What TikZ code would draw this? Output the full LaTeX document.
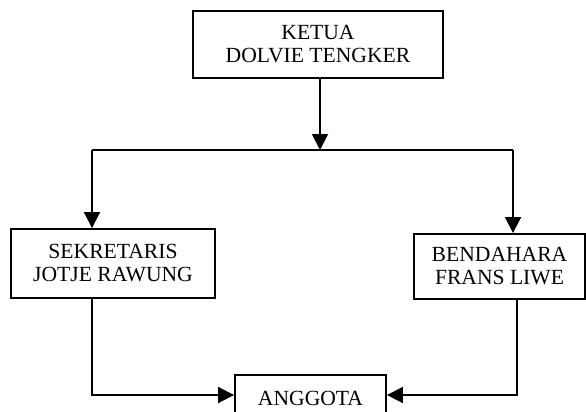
\documentclass[tikz,border=0pt]{standalone}
\usepackage{fontspec}
\setmainfont{Liberation Serif}
\usetikzlibrary{arrows.meta}
\tikzset{
  box/.style={draw, line width=1.9pt, rectangle, inner sep=0pt, align=center,
    font=\fontsize{21.6}{23}\selectfont},
  arr/.style={line width=1.9pt, -{Triangle[length=16pt,width=16pt]}},
  ln/.style={line width=1.9pt}
}
\begin{document}
\begin{tikzpicture}[x=1pt,y=-1pt]
\useasboundingbox (0,0) rectangle (586,412);
\clip (0,0) rectangle (586,412);
\node[box, minimum width=250pt, minimum height=67pt] (ketua) at (318,44.5) {KETUA\\DOLVIE TENGKER};
\node[box, minimum width=204pt, minimum height=69pt] (sek) at (113,263.5) {SEKRETARIS\\JOTJE RAWUNG};
\node[box, minimum width=171pt, minimum height=65pt] (bend) at (499.5,266.5) {BENDAHARA\\FRANS LIWE};
\node[box, minimum width=151pt, minimum height=47pt] (ang) at (310.5,398.5) {ANGGOTA};
\coordinate (jl) at (92,150);
\coordinate (jm) at (320,150);
\coordinate (jr) at (513,150);
\coordinate (bl) at (92,395);
\coordinate (br) at (517,395);
\draw[arr] (ketua.south -| jm) -- (jm);
\draw[ln] (jl) -- (jr);
\draw[arr] (jl) -- (sek.north -| jl);
\draw[arr] (jr) -- (bend.north -| jr);
\draw[arr] (sek.south -| bl) -- (bl) -- (ang.west |- bl);
\draw[arr] (bend.south -| br) -- (br) -- (ang.east |- br);
\end{tikzpicture}
\end{document}
